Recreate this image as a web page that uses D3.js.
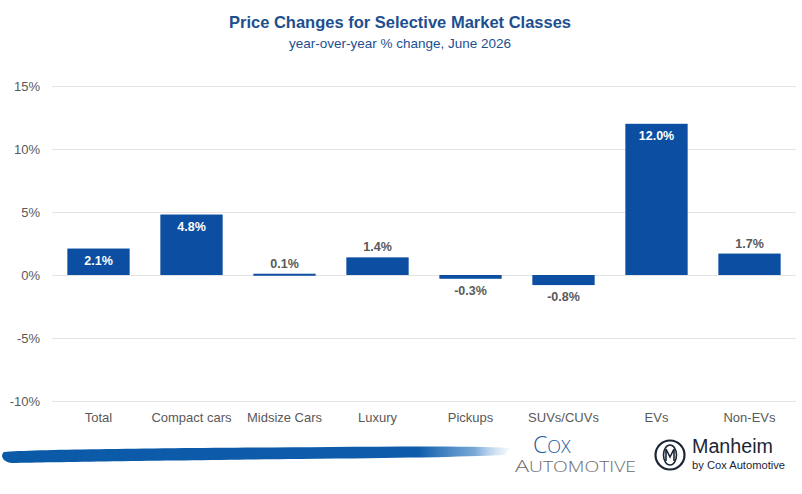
<!DOCTYPE html>
<html>
<head>
<meta charset="utf-8">
<script src="https://cdn.jsdelivr.net/npm/d3@7"></script>
<style>
  body { margin: 0; background: #fff; }
  svg { display: block; font-family: "Liberation Sans", Arial, sans-serif; }
</style>
</head>
<body>
<div id="chart"></div>
<script>
const categories = ["Total", "Compact cars", "Midsize Cars", "Luxury", "Pickups", "SUVs/CUVs", "EVs", "Non-EVs"];
const values = [2.1, 4.8, 0.1, 1.4, -0.3, -0.8, 12.0, 1.7];
const yTicks = [-10, -5, 0, 5, 10, 15];

const width = 802,
    height = 494,
    margin = ({ top: 86, right: 6, bottom: 93, left: 52 });

const svg = d3.select("#chart")
    .append("svg")
    .attr("width", width)
    .attr("height", height)
    .attr("viewBox", [0, 0, width, height]);

const data = categories.map((c, i) => ({ name: c, value: values[i] }));

let x = d3.scaleBand()
    .domain(categories)
    .range([margin.left, width - margin.right])
    .paddingInner(0.33)
    .paddingOuter(0.165);

let y = d3.scaleLinear()
    .domain([-10, 15])
    .range([height - margin.bottom, margin.top]);

// labels go inside the bar only when it is tall enough
const inside = d => d.value >= 0 && Math.abs(y(d.value) - y(0)) > 24;

// title
svg.append("text")
    .attr("x", 400).attr("y", 28)
    .attr("text-anchor", "middle")
    .attr("fill", "#1d4f8f")
    .attr("font-size", 16.5)
    .attr("font-weight", "bold")
    .text("Price Changes for Selective Market Classes");

svg.append("text")
    .attr("x", 400).attr("y", 48)
    .attr("text-anchor", "middle")
    .attr("fill", "#1d4f8f")
    .attr("font-size", 13.5)
    .text("year-over-year % change, June 2026");

// grid + y axis
svg.append("g")
    .attr("transform", `translate(${margin.left},0)`)
    .attr("class", "y-axis")
    .call(d3.axisLeft(y).tickValues(yTicks).tickFormat(d => d + "%")
        .tickSize(-(width - margin.left - margin.right)).tickPadding(12))
    .call(g => g.select(".domain").remove())
    .call(g => g.selectAll("line").attr("stroke", "#e3e3e3"))
    .call(g => g.selectAll("text").attr("fill", "#595959").attr("font-size", 13));

// bars
svg.append("g")
    .attr("fill", "#0b4ea2")
    .selectAll("rect")
    .data(data)
    .join("rect")
    .attr("x", d => x(d.name))
    .attr("width", x.bandwidth())
    .attr("y", d => y(Math.max(0, d.value)))
    .attr("height", d => Math.max(2, Math.abs(y(d.value) - y(0))));

// value labels
svg.append("g")
    .attr("font-size", 12.5)
    .attr("font-weight", "bold")
    .attr("text-anchor", "middle")
    .selectAll("text")
    .data(data)
    .join("text")
    .attr("x", d => x(d.name) + x.bandwidth() / 2)
    .attr("y", d => {
        if (inside(d)) return y(d.value) + 16;
        if (d.value >= 0) return y(d.value) - 6;
        return y(d.value) + 16;
    })
    .attr("fill", d => inside(d) ? "#ffffff" : "#595959")
    .text(d => d.value.toFixed(1) + "%");

// x axis labels
svg.append("g")
    .attr("transform", `translate(0,${height - margin.bottom})`)
    .attr("class", "x-axis")
    .call(d3.axisBottom(x).tickSize(0).tickPadding(12))
    .call(g => g.select(".domain").remove())
    .call(g => g.selectAll("text")
        .attr("fill", "#595959")
        .attr("font-size", 13));

// footer: brush stroke
const defs = svg.append("defs");
const grad = defs.append("linearGradient").attr("id", "brush").attr("x1", "0").attr("x2", "1");
grad.append("stop").attr("offset", "0").attr("stop-color", "#0b5aa8");
grad.append("stop").attr("offset", "0.82").attr("stop-color", "#0e5cab");
grad.append("stop").attr("offset", "0.93").attr("stop-color", "#3c82c4").attr("stop-opacity", 0.7);
grad.append("stop").attr("offset", "1").attr("stop-color", "#9cc3e6").attr("stop-opacity", 0.1);

svg.append("path")
    .attr("fill", "url(#brush)")
    .attr("d", "M4,452 C40,449 200,448 330,447 C400,446.5 470,446 510,448 L505,455 C460,457 400,458 300,459 C200,460 60,462 12,463 C2,462 0,455 4,452 Z");

// Cox Automotive logo
const cox = svg.append("text").attr("x", 533).attr("y", 453).attr("fill", "#1d5a9e")
    .attr("font-family", "'Open Sans', 'Liberation Sans', sans-serif").attr("font-weight", 300);
cox.append("tspan").attr("font-size", 23).text("C");
cox.append("tspan").attr("font-size", 18).text("OX");

const auto = svg.append("text").attr("x", 515).attr("y", 472).attr("fill", "#6b6b6b")
    .attr("font-family", "'Open Sans', 'Liberation Sans', sans-serif").attr("font-weight", 300)
    .attr("textLength", 121).attr("lengthAdjust", "spacingAndGlyphs");
auto.append("tspan").attr("font-size", 17).text("A");
auto.append("tspan").attr("font-size", 14).text("UTOMOTIVE");

// Manheim logo
const mh = svg.append("g").attr("transform", "translate(670,455)");
mh.append("circle").attr("r", 14.5).attr("fill", "none").attr("stroke", "#1b2536").attr("stroke-width", 2.2);
mh.append("ellipse").attr("rx", 6.5).attr("ry", 10).attr("fill", "none").attr("stroke", "#1b2536").attr("stroke-width", 1.6);
mh.append("path").attr("d", "M-4,6 L-4,-6 L0,2 L4,-6 L4,6").attr("fill", "none").attr("stroke", "#1b2536").attr("stroke-width", 1.6);

svg.append("text").attr("x", 692).attr("y", 453).attr("fill", "#1b2536")
    .attr("font-size", 20).attr("textLength", 81).attr("lengthAdjust", "spacingAndGlyphs")
    .text("Manheim");
svg.append("text").attr("x", 692).attr("y", 469).attr("fill", "#1b2536")
    .attr("font-size", 10).attr("textLength", 93).attr("lengthAdjust", "spacingAndGlyphs")
    .text("by Cox Automotive");
</script>
</body>
</html>
